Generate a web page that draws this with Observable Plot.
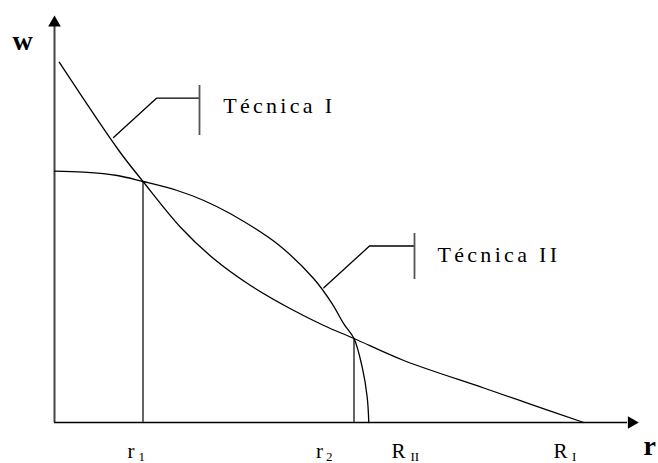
<!DOCTYPE html>
<html>
<head>
<meta charset="utf-8">
<script src="https://cdn.jsdelivr.net/npm/d3@7"></script>
<script src="https://cdn.jsdelivr.net/npm/@observablehq/plot@0.6"></script>
<style>
  html, body { margin: 0; padding: 0; background: #fff; }
  #chart svg { display: block; }
</style>
</head>
<body>
<div id="chart"></div>
<script>
// Curve for "Técnica I" (r, w)
const techniqueI = [
  [4.7, 360.3], [64.3, 272], [88.5, 241], [126, 195.3], [159.3, 163.7],
  [196, 137], [236, 113.7], [269.3, 97], [299.5, 84],
  [349.3, 62], [429.3, 34.5], [479.3, 17.2], [529.3, 0]
];
// Curve for "Técnica II" (r, w)
const techniqueII = [
  [0, 251.3], [29.3, 250.3], [62.7, 247], [88.5, 241], [122.7, 232],
  [149.3, 222], [176, 208.7], [222.7, 178.7], [259.3, 143.7], [277.7, 118.7],
  [289.3, 98.7], [299.5, 84], [307.7, 55.3], [312.7, 25.3], [314.3, 0]
];
// Switch points r1, r2 with wage at intersection
const switchPoints = [ {r: 88.5, w: 241}, {r: 299.5, w: 84} ];

// Callout leader lines (polyline points) and end ticks
const calloutI = [[59, 285], [102, 324.3], [145, 324.3]];
const calloutII = [[269.3, 134.7], [315, 176.5], [360, 176.5]];
const calloutTicks = [ {r: 145, w1: 287, w2: 337}, {r: 360, w1: 143, w2: 189} ];
const calloutLabels = [ {r: 168.7, w: 316.3, text: "Técnica I"}, {r: 383, w: 167.3, text: "Técnica II"} ];

// Axis extents
const axisEnd = {r: 573, w: 396};
const arrowHeads = [ {r: 0, w: 399.7, rot: 0}, {r: 577, w: 0, rot: 90} ];

// Bottom labels: main letter and subscript
const tickMain = [ {r: 73, text: "r"}, {r: 261.6, text: "r"}, {r: 337, text: "R"}, {r: 499, text: "R"} ];
const tickSub = [ {r: 84, text: "1"}, {r: 271.5, text: "2"}, {r: 356, text: "II"}, {r: 517.5, text: "I"} ];
const axisTitles = [ {r: -32, w: 381, text: "w"}, {r: 589, w: -24, text: "r"} ];

const serif = "'Liberation Serif', 'Times New Roman', 'DejaVu Serif', serif";

const chart = Plot.plot({
  width: 658,
  height: 463,
  margin: 0,
  x: {domain: [-54, 604], axis: null},
  y: {domain: [-41, 422], axis: null},
  style: {background: "#fff", fontFamily: serif},
  marks: [
    // axes
    Plot.ruleX([0], {y1: 0, y2: axisEnd.w, stroke: "#444", strokeWidth: 2}),
    Plot.ruleY([0], {x1: 0, x2: axisEnd.r, stroke: "#000", strokeWidth: 1.5}),
    Plot.dot(arrowHeads, {x: "r", y: "w", symbol: "triangle", r: 4.7, rotate: "rot", fill: "#000", stroke: null}),
    // vertical lines at switch points
    Plot.ruleX(switchPoints, {x: "r", y1: 0, y2: "w", stroke: "#555", strokeWidth: 1.8}),
    // curves
    Plot.line(techniqueI, {x: d => d[0], y: d => d[1], curve: "catmull-rom", stroke: "#000", strokeWidth: 1.3}),
    Plot.line(techniqueII, {x: d => d[0], y: d => d[1], curve: "catmull-rom", stroke: "#000", strokeWidth: 1.3}),
    // callouts
    Plot.line(calloutI, {x: d => d[0], y: d => d[1], stroke: "#000", strokeWidth: 1.3}),
    Plot.line(calloutII, {x: d => d[0], y: d => d[1], stroke: "#000", strokeWidth: 1.3}),
    Plot.ruleX(calloutTicks, {x: "r", y1: "w1", y2: "w2", stroke: "#555", strokeWidth: 1.8}),
    Plot.text(calloutLabels, {x: "r", y: "w", text: "text", textAnchor: "start", fontSize: 22, fill: "#000"}),
    // bottom labels
    Plot.text(tickMain, {x: "r", y: () => -28.5, text: "text", textAnchor: "start", fontSize: 21, fill: "#000"}),
    Plot.text(tickSub, {x: "r", y: () => -34.5, text: "text", textAnchor: "start", fontSize: 13, fill: "#000"}),
    // axis titles
    Plot.text(axisTitles.slice(0, 1), {x: "r", y: "w", text: "text", textAnchor: "middle", fontSize: 28, fontWeight: "bold", fill: "#000"}),
    Plot.text(axisTitles.slice(1), {x: "r", y: "w", text: "text", textAnchor: "start", fontSize: 28, fontWeight: "bold", fill: "#000"})
  ]
});
d3.select(chart).selectAll("text")
  .filter(function() { return this.textContent.startsWith("Técnica"); })
  .attr("letter-spacing", 3.3);
document.getElementById("chart").appendChild(chart);
</script>
</body>
</html>
